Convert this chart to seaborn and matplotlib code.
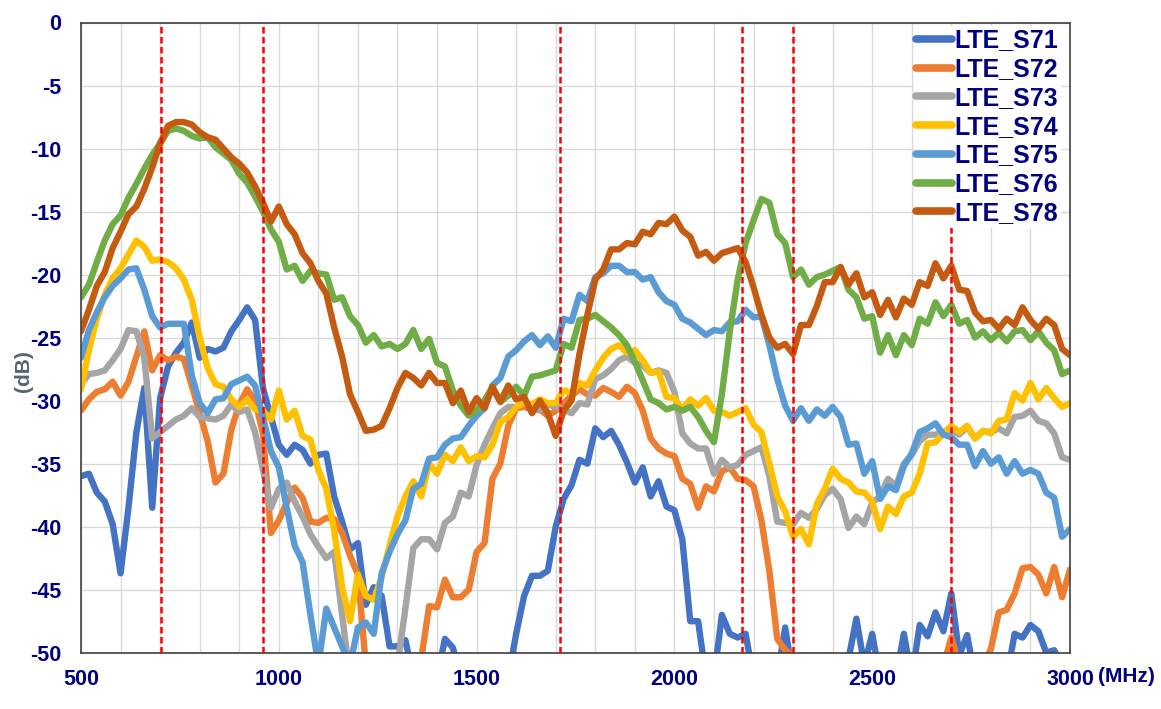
import numpy as np
import pandas as pd
import matplotlib
matplotlib.use("Agg")
import matplotlib.pyplot as plt
import seaborn as sns
from matplotlib import font_manager

# -------------------------------------
# Data, 20 MHz steps from 500 to 3000 MHz
# -------------------------------------
freq = np.arange(500, 3001, 20)

s71 = [-36.0, -35.8, -37.3, -38.0, -39.8, -43.7, -38.5, -32.5, -29.0, -38.5,
       -29.8, -27.3, -26.2, -25.4, -23.8, -26.6, -25.9, -26.1, -25.8, -24.5,
       -23.6, -22.6, -23.6, -29.0, -31.3, -33.5, -34.3, -33.5, -33.9, -35.0,
       -34.3, -34.2, -37.6, -39.6, -41.8, -41.3, -46.2, -44.8, -45.5, -49.5,
       -49.5, -49.0, -52.0, -52.0, -52.0, -52.0, -48.9, -49.6, -52.0, -52.0,
       -52.0, -52.0, -52.0, -52.0, -52.0, -48.5, -45.5, -43.9, -43.9, -43.5,
       -40.0, -37.8, -36.7, -34.7, -35.0, -32.2, -32.9, -32.4, -33.5, -34.9,
       -36.5, -35.3, -37.6, -36.4, -38.4, -38.7, -41.0, -47.5, -47.5, -52.0,
       -52.0, -47.0, -48.5, -48.8, -48.5, -52.0, -52.0, -52.0, -52.0, -48.0,
       -52.0, -52.0, -52.0, -52.0, -52.0, -52.0, -52.0, -50.5, -47.3, -51.0,
       -48.5, -52.0, -52.0, -52.0, -48.5, -52.0, -47.8, -48.7, -46.8, -48.3,
       -45.3, -50.2, -48.6, -52.0, -52.0, -52.0, -52.0, -52.0, -48.5, -48.8,
       -47.8, -48.3, -50.0, -49.8, -51.0, -51.0]

s72 = [-30.8, -29.9, -29.3, -29.1, -28.5, -29.6, -28.5, -26.5, -24.5, -27.6,
       -26.4, -26.8, -26.5, -26.7, -28.8, -31.0, -33.2, -36.5, -35.8, -32.3,
       -30.3, -29.1, -30.0, -32.6, -40.5, -39.5, -38.1, -36.9, -37.7, -39.6,
       -39.7, -39.3, -39.4, -40.5, -42.3, -43.8, -51.0, -51.0, -51.0, -51.0,
       -51.0, -51.0, -51.0, -50.5, -46.3, -46.4, -44.2, -45.6, -45.6, -45.0,
       -42.0, -41.3, -36.2, -35.0, -32.0, -30.6, -30.5, -30.7, -30.7, -31.2,
       -30.8, -30.2, -29.6, -29.1, -29.5, -29.6, -29.0, -29.3, -29.7, -28.9,
       -29.4, -30.8, -33.0, -33.8, -34.2, -34.4, -36.2, -36.6, -38.5, -36.8,
       -37.2, -35.6, -35.3, -36.2, -36.3, -36.8, -39.5, -43.5, -48.9, -49.8,
       -50.2, -51.0, -51.0, -51.0, -51.0, -51.0, -51.0, -51.0, -51.0, -51.0,
       -51.0, -51.0, -51.0, -51.0, -51.0, -51.0, -51.0, -51.0, -51.0, -51.0,
       -48.8, -51.0, -51.0, -51.0, -51.0, -49.7, -46.8, -46.6, -45.3, -43.3,
       -43.2, -43.8, -45.3, -43.2, -45.6, -43.4]

s73 = [-28.7, -27.9, -27.8, -27.6, -26.8, -25.9, -24.4, -24.5, -26.6, -33.0,
       -32.5, -32.0, -31.5, -31.2, -30.6, -31.3, -31.4, -31.5, -31.2, -30.3,
       -30.9, -30.7, -32.5, -35.5, -38.5, -37.0, -36.5, -38.0, -39.2, -40.6,
       -41.6, -42.5, -42.0, -47.0, -52.0, -52.0, -52.0, -52.0, -52.0, -52.0,
       -51.0, -46.5, -41.7, -41.0, -41.0, -41.8, -39.7, -39.2, -37.3, -37.6,
       -35.1, -33.5, -32.2, -31.0, -30.5, -30.5, -30.2, -30.5, -30.8, -30.3,
       -30.5, -30.7, -31.0, -30.2, -30.3, -28.3, -28.0, -27.5, -26.8, -26.5,
       -27.0, -27.2, -27.8, -27.6, -27.8, -29.3, -32.6, -33.4, -33.8, -33.8,
       -35.8, -34.7, -35.3, -35.1, -34.3, -34.0, -33.7, -36.0, -39.6, -39.7,
       -39.8, -38.9, -39.3, -38.6, -37.5, -37.0, -37.8, -40.1, -39.2, -39.8,
       -38.1, -37.6, -36.2, -36.8, -35.0, -34.3, -33.2, -32.7, -32.7, -32.5,
       -32.3, -32.7, -32.1, -33.0, -32.4, -32.5, -32.2, -32.6, -31.3, -31.2,
       -30.8, -31.6, -31.8, -32.6, -34.5, -34.7]

s74 = [-29.1, -26.0, -23.5, -21.6, -20.3, -19.5, -18.4, -17.3, -17.8, -18.9,
       -18.8, -19.0, -19.5, -20.4, -22.0, -25.0, -27.4, -28.7, -28.9, -29.9,
       -30.5, -29.9, -30.7, -30.8, -31.5, -29.2, -31.5, -30.8, -32.8, -33.1,
       -35.5, -37.0, -40.3, -44.8, -47.5, -43.8, -45.5, -45.8, -44.0, -41.5,
       -39.2, -37.6, -36.4, -37.6, -35.0, -35.8, -34.3, -34.8, -33.7, -34.8,
       -34.4, -34.5, -33.5, -31.7, -31.3, -30.5, -30.2, -30.3, -29.9, -30.2,
       -30.2, -29.2, -29.4, -28.6, -28.8, -27.6, -26.6, -25.9, -25.6, -26.2,
       -26.0, -26.8, -27.8, -27.7, -29.7, -29.8, -30.7, -29.9, -30.4, -29.8,
       -30.8, -30.9, -31.2, -30.9, -30.6, -31.9, -32.5, -35.0, -37.6, -38.8,
       -40.8, -40.2, -41.4, -38.2, -37.0, -35.4, -36.2, -36.5, -37.2, -37.3,
       -38.0, -40.2, -38.4, -39.0, -37.6, -37.3, -35.8, -33.4, -33.3, -32.6,
       -32.0, -32.5, -32.0, -33.0, -32.4, -32.6, -31.6, -31.5, -29.4, -30.0,
       -28.6, -29.9, -29.0, -29.8, -30.5, -30.2]

s75 = [-26.6, -24.4, -23.0, -21.8, -20.9, -20.3, -19.6, -19.5, -21.2, -23.3,
       -24.2, -23.9, -23.9, -23.9, -28.0, -30.2, -31.0, -29.9, -29.8, -28.7,
       -28.4, -28.1, -28.8, -31.3, -34.0, -35.3, -38.5, -41.5, -42.8, -47.0,
       -51.0, -46.5, -48.0, -49.5, -51.0, -48.0, -47.6, -48.5, -43.7, -42.0,
       -40.6, -39.5, -37.0, -36.6, -34.6, -34.5, -33.5, -33.0, -32.9, -32.0,
       -31.2, -30.6, -28.8, -28.2, -26.5, -26.0, -25.3, -24.8, -25.6, -24.9,
       -25.8, -23.5, -23.7, -21.6, -22.1, -20.2, -19.9, -19.3, -19.3, -19.8,
       -19.8, -20.4, -20.2, -21.4, -22.1, -22.4, -23.5, -23.8, -24.3, -24.8,
       -24.4, -24.5, -23.8, -23.7, -22.8, -23.4, -23.3, -25.6, -28.3, -30.4,
       -31.6, -30.6, -31.6, -30.7, -31.2, -30.5, -31.3, -33.5, -33.4, -35.8,
       -34.8, -37.8, -36.8, -37.1, -35.2, -34.2, -32.5, -32.2, -31.8, -32.7,
       -32.9, -33.5, -33.5, -35.2, -34.0, -35.0, -34.5, -35.8, -34.8, -35.8,
       -35.5, -35.8, -37.3, -37.7, -40.8, -40.2]

s76 = [-21.8, -20.8, -19.0, -17.3, -16.0, -15.3, -13.9, -12.8, -11.6, -10.5,
       -9.6, -8.6, -8.4, -8.6, -9.0, -9.2, -9.1, -9.9, -10.4, -10.9,
       -12.0, -12.7, -13.8, -15.0, -16.4, -17.4, -19.6, -19.3, -20.5, -19.7,
       -19.9, -20.0, -22.0, -21.8, -23.3, -24.0, -25.4, -24.8, -25.7, -25.5,
       -25.9, -25.5, -24.4, -25.9, -25.1, -27.0, -27.3, -29.2, -30.4, -31.2,
       -30.8, -30.0, -28.9, -30.1, -29.6, -28.9, -29.6, -28.1, -28.0, -27.8,
       -27.6, -25.5, -25.8, -23.6, -23.5, -23.2, -23.7, -24.2, -24.8, -25.6,
       -26.9, -28.4, -29.9, -30.2, -30.7, -30.5, -30.8, -30.5, -31.3, -32.4,
       -33.3, -29.5, -24.5, -20.4, -17.5, -15.7, -14.0, -14.3, -16.8, -17.5,
       -20.2, -19.6, -20.8, -20.2, -20.0, -19.7, -19.4, -21.2, -21.8, -23.5,
       -23.3, -26.2, -24.8, -26.4, -24.8, -25.6, -23.5, -23.9, -22.2, -23.3,
       -22.4, -23.9, -23.6, -25.0, -24.5, -25.2, -24.6, -25.3, -24.5, -24.4,
       -25.2, -24.5, -25.4, -26.0, -27.9, -27.6]

s78 = [-24.5, -22.8, -20.9, -19.8, -17.9, -16.6, -15.2, -14.6, -13.2, -11.5,
       -9.6, -8.2, -7.9, -7.9, -8.1, -8.7, -9.1, -9.3, -10.0, -10.7,
       -11.2, -11.9, -13.0, -14.3, -15.8, -14.6, -16.0, -16.8, -18.3, -19.1,
       -20.5, -21.5, -24.2, -26.5, -29.5, -30.9, -32.4, -32.3, -32.0, -30.6,
       -29.0, -27.8, -28.2, -28.8, -27.8, -28.6, -28.6, -30.2, -29.2, -30.9,
       -29.8, -30.6, -28.9, -30.1, -28.8, -29.9, -29.7, -31.0, -30.0, -31.0,
       -32.8, -30.8, -30.0, -26.3, -23.2, -20.4, -19.6, -18.0, -18.0, -17.5,
       -17.6, -16.6, -16.8, -15.9, -16.0, -15.4, -16.5, -17.0, -18.5, -18.2,
       -18.9, -18.3, -18.1, -17.9, -19.0, -21.0, -23.2, -25.0, -25.8, -25.5,
       -26.3, -24.0, -24.0, -22.5, -20.6, -20.6, -19.4, -20.8, -19.9, -21.8,
       -21.4, -23.2, -22.0, -23.4, -21.9, -22.4, -20.6, -20.9, -19.1, -20.3,
       -19.3, -21.2, -21.3, -23.0, -23.7, -23.6, -24.3, -23.5, -24.0, -22.6,
       -23.6, -24.3, -23.5, -24.0, -25.9, -26.4]

labels = ["LTE_S71", "LTE_S72", "LTE_S73", "LTE_S74", "LTE_S75", "LTE_S76", "LTE_S78"]
colors = ["#4472C4", "#ED7D31", "#A5A5A5", "#FFC000", "#5B9BD5", "#70AD47", "#C55A11"]

# band edges marked with red dashed lines
band_edges = [703, 960, 1710, 2170, 2300, 2700]

# long-form table for seaborn
df = pd.DataFrame({"freq": freq, "LTE_S71": s71, "LTE_S72": s72, "LTE_S73": s73,
                   "LTE_S74": s74, "LTE_S75": s75, "LTE_S76": s76, "LTE_S78": s78})
df_long = df.melt(id_vars="freq", var_name="band", value_name="dB")

# -------------------------------------
# Style
# -------------------------------------
sns.set_style("white")
installed = {f.name for f in font_manager.fontManager.ttflist}
base_font = "Liberation Sans" if "Liberation Sans" in installed else "DejaVu Sans"
plt.rcParams["font.family"] = [base_font, "DejaVu Sans"]
plt.rcParams["axes.unicode_minus"] = False

navy = "#000080"

fig = plt.figure(figsize=(11.61, 7.09), dpi=100)
ax = fig.add_axes([81 / 1161, 1 - 652.7 / 709, (1070 - 81) / 1161, (652.7 - 22.5) / 709])

sns.lineplot(data=df_long, x="freq", y="dB", hue="band", hue_order=labels,
             palette=colors, linewidth=4.6, errorbar=None, ax=ax)

for f in band_edges:
    ax.axvline(f, color="#FF0000", linewidth=1.8, dashes=(2.6, 1.4), zorder=3)

ax.set_xlim(500, 3000)
ax.set_ylim(-50, 0)
ax.set_xticks(range(500, 3001, 500))
ax.set_xticks(range(500, 3001, 100), minor=True)
ax.set_yticks(range(-50, 1, 5))
ax.grid(True, which="both", color="#D9D9D9", linewidth=1.0)
ax.set_axisbelow(True)

ax.tick_params(axis="both", which="major", direction="in", length=4, color="#404040",
               labelsize=15.5, labelcolor=navy)
ax.tick_params(axis="y", pad=14)
ax.tick_params(axis="x", pad=12)
ax.tick_params(axis="x", which="minor", length=0)
for lab in ax.get_xticklabels() + ax.get_yticklabels():
    lab.set_fontweight("bold")

for sp in ax.spines.values():
    sp.set_color("#404040")
    sp.set_linewidth(1.2)

ax.set_xlabel("")
ax.set_ylabel("")
fig.text(23 / 1161, 1 - 371 / 709, "(dB)", rotation=90, ha="center", va="center",
         fontsize=15, fontweight="bold", color="#56627A")
fig.text(1098 / 1161, 1 - 676 / 709, "(MHz)", ha="left", va="center",
         fontsize=15, fontweight="bold", color=navy)

leg = ax.legend(loc="upper right", bbox_to_anchor=(1 - 9 / 989, 1 - 3.5 / 630),
                fontsize=18, frameon=True, framealpha=1,
                facecolor="white", edgecolor="none", fancybox=False,
                handlelength=1.45, handletextpad=0.1, labelspacing=0.19,
                borderpad=0.1, borderaxespad=0)
for t in leg.get_texts():
    t.set_fontweight("bold")
    t.set_color(navy)
for h in leg.legend_handles:
    h.set_linewidth(5.5)

fig.savefig("out.png", dpi=100)
